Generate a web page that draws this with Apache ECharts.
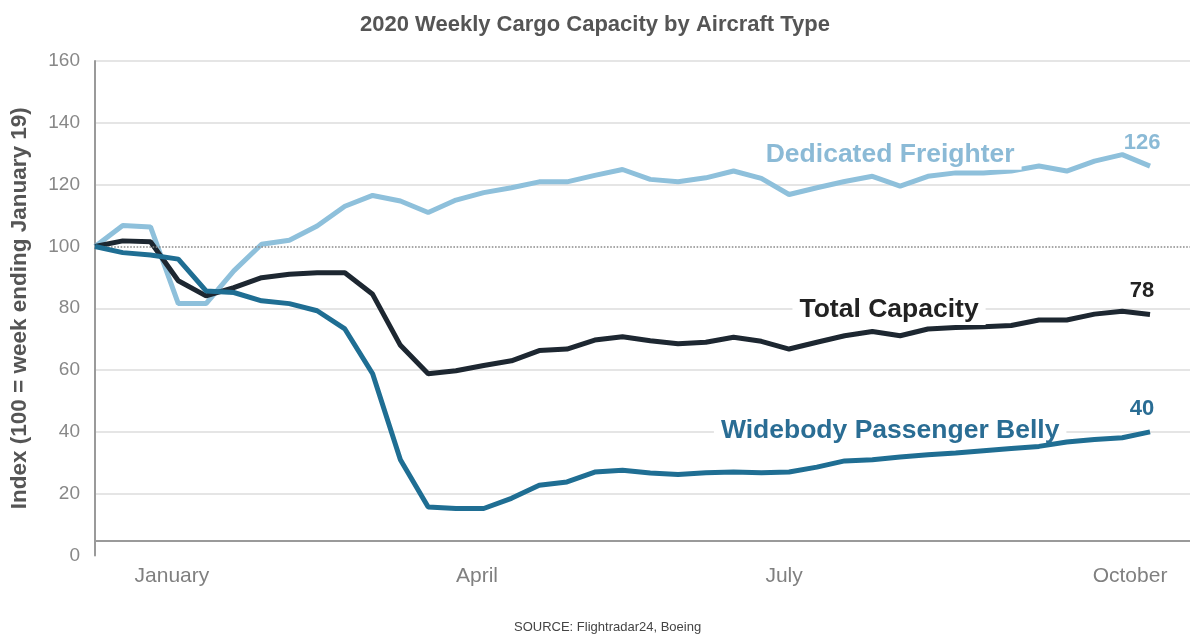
<!DOCTYPE html>
<html>
<head>
<meta charset="utf-8">
<script src="https://cdn.jsdelivr.net/npm/echarts@6/dist/echarts.min.js"></script>
<style>
html,body{margin:0;padding:0;background:#fff;}
#chart{width:1190px;height:637px;}
</style>
</head>
<body>
<div id="chart"></div>
<script>
// Weekly index values (100 = week ending January 19), 39 weeks
const dedicatedFreighter = [100,106.8,106.3,81.5,81.5,92.1,100.7,102,106.6,113,116.5,114.7,111,115,117.4,119,120.9,120.9,123,124.9,121.7,120.9,122.2,124.4,122,116.8,119,121,122.7,119.5,122.7,123.8,123.8,124.4,126,124.4,127.6,129.7,126];
const totalCapacity = [100,101.8,101.5,88.9,84,86.7,89.9,91,91.5,91.5,84.5,68,58.8,59.8,61.5,63,66.3,66.8,69.7,70.8,69.5,68.5,69,70.6,69.3,66.8,69,71.1,72.5,71.1,73.3,73.8,74,74.4,76.2,76.2,78.1,79,78];
const widebodyBelly = [100,98,97.2,95.9,85.6,85.1,82.4,81.5,79.2,73.3,58.8,31,15.7,15.2,15.2,18.5,22.7,23.8,27,27.6,26.7,26.2,26.8,27,26.8,27,28.6,30.6,31,31.9,32.6,33.2,33.9,34.6,35.3,36.7,37.5,38.1,40];
const seriesNames = ['Dedicated Freighter','Total Capacity','Widebody Passenger Belly'];
const monthLabels = ['January','April','July','October'];
const monthWeekPos = [2.77, 13.76, 24.82, 37.28];
const yTicks = [0,20,40,60,80,100,120,140,160];
const baseline = 100;

const FONT = 'Liberation Sans, Arial, Helvetica, sans-serif';
const toPairs = arr => arr.map((v,i)=>[i,v]);
const colors = ['#8ec0db','#1d2731','#1f6e93'];
const labelColors = ['#8bbad6','#222222','#2a6d94'];
const gridColor = '#dcdcdc';
const splitColors = yTicks.map(t => (t===0 || t===baseline) ? 'rgba(0,0,0,0)' : gridColor);

function endLabel(color){
  return {show:true, formatter: p => Math.round(p.value[1]), color:color, fontSize:22, fontWeight:'bold',
    fontFamily:FONT, align:'center', verticalAlign:'bottom', distance:0, offset:[-8,-12]};
}
function annot(coord, text, color){
  return {
    symbol:'circle', symbolSize:1, itemStyle:{color:'rgba(0,0,0,0)'},
    data:[{coord:coord, value:text}],
    label:{show:true, position:'inside', formatter:text, color:color, fontSize:26.5, fontWeight:'bold',
      fontFamily:FONT, backgroundColor:'#fff', padding:[2,7]},
    silent:true
  };
}

const chart = echarts.init(document.getElementById('chart'), null, {renderer:'canvas'});
chart.setOption({
  animation:false,
  backgroundColor:'#fff',
  title:[
    {text:'2020 Weekly Cargo Capacity by Aircraft Type', left:'center', top:9,
     textStyle:{fontSize:22, fontWeight:'bold', color:'#555', fontFamily:FONT}},
    {text:'SOURCE: Flightradar24, Boeing', left:509, top:616,
     textStyle:{fontSize:13, fontWeight:'normal', color:'#444', fontFamily:FONT}}
  ],
  grid:{left:95, right:0, top:61, bottom:81.5, containLabel:false},
  xAxis:{
    type:'value', min:0, max:39.44,
    axisLine:{show:true, onZero:true, onZeroAxisIndex:1, lineStyle:{color:'#9a9a9a', width:2}},
    axisTick:{show:false},
    splitLine:{show:false},
    axisLabel:{show:true, customValues:monthWeekPos, margin:10,
      formatter:(v)=>{const i = monthWeekPos.findIndex(p=>Math.abs(p-v)<1e-6); return i>=0?monthLabels[i]:'';},
      color:'#808080', fontSize:21, fontFamily:FONT}
  },
  yAxis:[
    {type:'value', min:0, max:160, interval:20,
     name:'Index (100 = week ending January 19)', nameLocation:'middle', nameGap:64,
     nameTextStyle:{fontSize:22.5, fontWeight:'bold', color:'#555', fontFamily:FONT},
     axisLine:{show:true, lineStyle:{color:'#9a9a9a', width:2}},
     axisTick:{show:false},
     axisLabel:{margin:15, color:'#888', fontSize:19, fontFamily:FONT},
     splitLine:{show:true, lineStyle:{color:splitColors, width:1.5}}
    },
    {type:'value', min:-4.68, max:155.32, show:false, splitLine:{show:false}}
  ],
  series:[
    {name:seriesNames[0], type:'line', data:toPairs(dedicatedFreighter), symbol:'none',
     lineStyle:{color:colors[0], width:5}, itemStyle:{color:colors[0]}, z:3,
     endLabel:endLabel(labelColors[0]),
     markLine:{silent:true, symbol:'none', label:{show:false},
       lineStyle:{type:'dotted', color:'#8a8a8a', width:1.6}, data:[{yAxis:baseline}]},
     markPoint:annot([28.64,129.8], seriesNames[0], labelColors[0])},
    {name:seriesNames[1], type:'line', data:toPairs(totalCapacity), symbol:'none',
     lineStyle:{color:colors[1], width:5}, itemStyle:{color:colors[1]}, z:4,
     endLabel:endLabel(labelColors[1]),
     markPoint:annot([28.6,79.6], seriesNames[1], labelColors[1])},
    {name:seriesNames[2], type:'line', data:toPairs(widebodyBelly), symbol:'none',
     lineStyle:{color:colors[2], width:5}, itemStyle:{color:colors[2]}, z:5,
     endLabel:endLabel(labelColors[2]),
     markPoint:annot([28.64,40.5], seriesNames[2], labelColors[2])}
  ]
});
</script>
</body>
</html>
